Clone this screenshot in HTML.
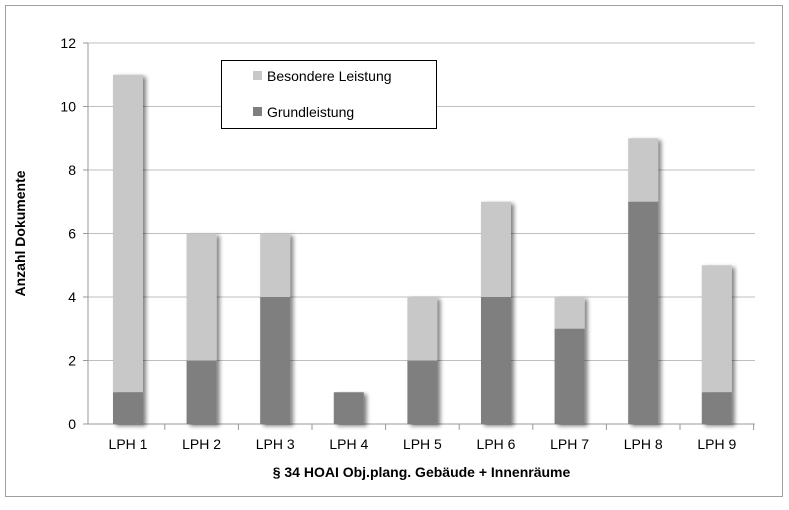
<!DOCTYPE html>
<html><head><meta charset="utf-8"><style>
body{margin:0;background:#fff}
svg text{font-family:"Liberation Sans",sans-serif}
</style></head><body>
<svg id="c" width="789" height="505" xmlns="http://www.w3.org/2000/svg">
<defs><filter id="sh" x="-20%" y="-10%" width="150%" height="130%"><feGaussianBlur in="SourceAlpha" stdDeviation="2"/><feOffset dx="3" dy="2"/><feComponentTransfer><feFuncA type="linear" slope="0.5"/></feComponentTransfer><feMerge><feMergeNode/><feMergeNode in="SourceGraphic"/></feMerge></filter></defs>
<rect x="5.5" y="5.5" width="777" height="491" fill="#fff" stroke="#a0a0a0"/>
<g id="g"></g>
</svg>
<script>
const categories=["LPH 1","LPH 2","LPH 3","LPH 4","LPH 5","LPH 6","LPH 7","LPH 8","LPH 9"];
const grundleistung=[1,2,4,1,2,4,3,7,1];
const besondere=[10,4,2,0,2,3,1,2,4];
const yTicks=[0,2,4,6,8,10,12];
const NS="http://www.w3.org/2000/svg";
const g=document.getElementById('g');
const x0=88,x1=755,y0=424,y1=43,ymax=12;
const cx0=91.2,cx1=753.6;
const bw=(cx1-cx0)/categories.length;
const y=v=>y0-(v/ymax)*(y0-y1);
function el(t,a,txt){const e=document.createElementNS(NS,t);for(const k in a)e.setAttribute(k,a[k]);if(txt!==undefined)e.textContent=txt;g.appendChild(e);return e;}
yTicks.forEach(v=>{
 const l=el('line',{x1:x0,x2:x1,y1:y(v),y2:y(v),stroke:'#bfbfbf','stroke-width':1});
 
 const t=el('text',{x:x0-12,y:y(v)+5,'text-anchor':'end','font-size':14,fill:'#000'},v);
 
 const tk=el('line',{x1:x0-5,x2:x0,y1:y(v),y2:y(v),stroke:'#999'});
 
});
const ax=el('line',{x1:x0,x2:x0,y1:y1,y2:y0,stroke:'#999'});

const xa=el('line',{x1:x0,x2:x1,y1:y0,y2:y0,stroke:'#999'});

categories.forEach((c,i)=>{
 const cx=cx0+bw*(i+0.5);
 const tk=el('line',{x1:cx0+bw*(i+1),x2:cx0+bw*(i+1),y1:y0,y2:y0+6,stroke:'#999'});
 
 const grp=el('g',{filter:'url(#sh)'});
 
 const gv=grundleistung[i],bv=besondere[i];
 const r1=document.createElementNS(NS,'rect');
 r1.setAttribute('x',cx-15);r1.setAttribute('width',30);r1.setAttribute('y',y(gv));r1.setAttribute('height',y0-y(gv));r1.setAttribute('fill','#7f7f7f');
 
 const r2=document.createElementNS(NS,'rect');
 r2.setAttribute('x',cx-15);r2.setAttribute('width',30);r2.setAttribute('y',y(gv+bv));r2.setAttribute('height',y(gv)-y(gv+bv));r2.setAttribute('fill','#c8c8c8');
 
 grp.appendChild(r2);grp.appendChild(r1);
 const t=el('text',{x:cx,y:449,'text-anchor':'middle','font-size':14},c);
 
});
const xt=el('text',{x:(x0+x1)/2,y:477,'text-anchor':'middle','font-size':14,'font-weight':'bold'},'§ 34 HOAI Obj.plang. Gebäude + Innenräume');

const yt=el('text',{x:0,y:0,'text-anchor':'middle','font-size':14,'font-weight':'bold',transform:'translate(25,'+((y0+y1)/2)+') rotate(-90)'},'Anzahl Dokumente');

const lg=el('rect',{x:221.5,y:60.5,width:215,height:68,fill:'#fff',stroke:'#000'});

const s1=el('rect',{x:253,y:71,width:9,height:9,fill:'#c8c8c8'});

const l1=el('text',{x:267,y:81,'font-size':14},'Besondere Leistung');

const s2=el('rect',{x:253,y:107,width:9,height:9,fill:'#7f7f7f'});

const l2=el('text',{x:267,y:117,'font-size':14},'Grundleistung');

</script>
</body></html>
